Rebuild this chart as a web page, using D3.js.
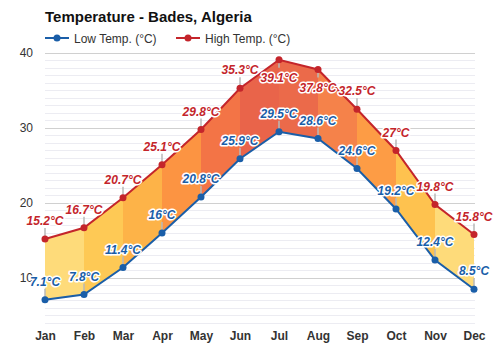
<!DOCTYPE html>
<html><head><meta charset="utf-8">
<script src="https://cdn.jsdelivr.net/npm/d3@7"></script>
<style>
body{margin:0;background:#fff;}
svg{display:block;font-family:"Liberation Sans",Arial,sans-serif;}
</style></head>
<body><svg id="c" width="500" height="350"></svg>
<script>
const months = ["Jan","Feb","Mar","Apr","May","Jun","Jul","Aug","Sep","Oct","Nov","Dec"];
const lowTemps = [7.1, 7.8, 11.4, 16, 20.8, 25.9, 29.5, 28.6, 24.6, 19.2, 12.4, 8.5];
const highTemps = [15.2, 16.7, 20.7, 25.1, 29.8, 35.3, 39.1, 37.8, 32.5, 27, 19.8, 15.8];
const yTicks = [10, 20, 30, 40];
const title = "Temperature - Bades, Algeria";
const seriesNames = ["Low Temp. (°C)", "High Temp. (°C)"];

const segColors = ["#fedb7a","#fec955","#fdb348","#fc9442","#f37446","#e9644a","#eb6a4a","#f5824a","#fd9c45","#fec24f","#fedb7a"];
const lowColor = "#1a5ea8", highColor = "#c4252b";

const svg = d3.select("#c");
const x = d3.scalePoint().domain(months).range([45, 474]);
const y = d3.scaleLinear().domain([4, 40]).range([323, 53]);

// gridlines
const grid = svg.append("g");
d3.range(4, 41).forEach(v => {
  grid.append("line").attr("x1", 45).attr("x2", 475)
    .attr("y1", y(v)).attr("y2", y(v))
    .attr("stroke", v % 10 === 0 ? "#d0d0d0" : "#ececf2").attr("stroke-width", 1)
    .attr("shape-rendering", "crispEdges");
});

// y axis labels
const yAxis = d3.axisLeft(y).tickValues(yTicks).tickSize(0).tickPadding(0);
const ya = svg.append("g").attr("transform", "translate(33,0)").call(yAxis);
ya.select(".domain").remove();
ya.selectAll("text").attr("font-size", 12).attr("fill", "#333").attr("font-family", "Liberation Sans, Arial, sans-serif");

// x axis labels
const xAxis = d3.axisBottom(x).tickSize(0).tickPadding(0);
const xa = svg.append("g").attr("transform", "translate(0,331)").call(xAxis);
xa.select(".domain").remove();
xa.selectAll("text").attr("font-size", 12).attr("font-weight", "bold").attr("fill", "#333").attr("font-family", "Liberation Sans, Arial, sans-serif");

// area segments
const data = months.map((m, i) => ({m, lo: lowTemps[i], hi: highTemps[i]}));
const area = d3.area().x(d => x(d.m)).y0(d => y(d.lo)).y1(d => y(d.hi));
for (let i = 0; i < data.length - 1; i++) {
  svg.append("path").attr("d", area([data[i], data[i+1]])).attr("fill", segColors[i]);
}

// leader lines
const leaders = svg.append("g").attr("stroke", "#b8b8b8").attr("stroke-width", 1.5);
data.forEach((d, i) => {
  const below = d.hi > 37; // labels placed under the point near the top
  const yh = y(d.hi);
  leaders.append("line").attr("x1", x(d.m)).attr("x2", x(d.m))
    .attr("y1", yh).attr("y2", below ? yh + 8 : yh - 11);
  const yl = y(d.lo);
  leaders.append("line").attr("x1", x(d.m)).attr("x2", x(d.m))
    .attr("y1", yl).attr("y2", yl - 11);
});

// lines
const lineLo = d3.line().x(d => x(d.m)).y(d => y(d.lo));
const lineHi = d3.line().x(d => x(d.m)).y(d => y(d.hi));
svg.append("path").attr("d", lineLo(data)).attr("fill", "none").attr("stroke", lowColor).attr("stroke-width", 2);
svg.append("path").attr("d", lineHi(data)).attr("fill", "none").attr("stroke", highColor).attr("stroke-width", 2);
svg.selectAll("circle.lo").data(data).enter().append("circle")
  .attr("cx", d => x(d.m)).attr("cy", d => y(d.lo)).attr("r", 3.5).attr("fill", lowColor);
svg.selectAll("circle.hi").data(data).enter().append("circle")
  .attr("cx", d => x(d.m)).attr("cy", d => y(d.hi)).attr("r", 3.5).attr("fill", highColor);

// value labels
const fmt = v => (Math.round(v * 10) / 10) + "°C";
function lab(xp, yp, t, col) {
  svg.append("text").attr("x", xp).attr("y", yp).attr("text-anchor", "middle")
    .attr("font-size", 12).attr("font-weight", "bold").attr("font-style", "italic")
    .attr("fill", col).attr("stroke", "#fff").attr("stroke-width", 3)
    .attr("stroke-linejoin", "round").attr("paint-order", "stroke").text(t);
}
data.forEach(d => {
  const below = d.hi > 37;
  lab(x(d.m), below ? y(d.hi) + 22 : y(d.hi) - 14, fmt(d.hi), highColor);
  lab(x(d.m), y(d.lo) - 14, fmt(d.lo), lowColor);
});

// title
svg.append("text").attr("x", 45).attr("y", 22).attr("font-size", 15).attr("font-weight", "bold")
  .attr("fill", "#111").text(title);

// legend
const leg = [[45, lowColor, seriesNames[0]], [176, highColor, seriesNames[1]]];
leg.forEach(([lx, c, t]) => {
  svg.append("line").attr("x1", lx).attr("x2", lx + 24).attr("y1", 38).attr("y2", 38).attr("stroke", c).attr("stroke-width", 2);
  svg.append("circle").attr("cx", lx + 12).attr("cy", 38).attr("r", 3.5).attr("fill", c);
  svg.append("text").attr("x", lx + 29).attr("y", 42.5).attr("font-size", 12).attr("fill", "#333").text(t);
});
</script></body></html>
